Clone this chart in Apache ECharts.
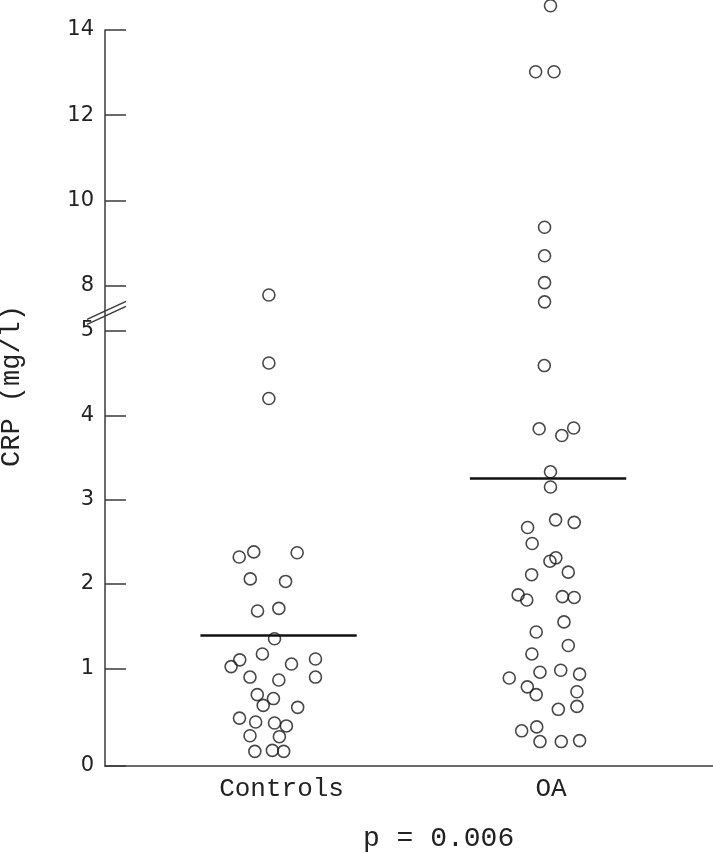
<!DOCTYPE html>
<html>
<head>
<meta charset="utf-8">
<script src="https://cdn.jsdelivr.net/npm/echarts@6/dist/echarts.min.js"></script>
<style>
  html, body { margin: 0; padding: 0; background: #fff; }
  #chart { width: 713px; height: 853px; }
</style>
</head>
<body>
<div id="chart"></div>
<script>
// CRP dot plot, controls vs OA, broken y axis (5 → 8)
const groups = ['Controls', 'OA'];
const yTicks = [0, 1, 2, 3, 4, 5, 8, 10, 12, 14];
const groupMeans = [1.39, 3.25];
const pValueText = 'p = 0.006';

const controlsCRP = [7.78, 4.62, 4.20, 2.32, 2.38, 2.37, 2.06, 2.03, 1.68, 1.71, 1.35, 1.17, 1.10, 1.02, 1.05, 1.11,
  0.91, 0.91, 0.88, 0.73, 0.69, 0.62, 0.60, 0.49, 0.45, 0.44, 0.41, 0.31, 0.30, 0.15, 0.16, 0.15];
const controlsJitter = [-0.036, -0.036, -0.036, -0.146, -0.092, 0.069, -0.105, 0.026, -0.078, 0.001, -0.015, -0.060, -0.144, -0.176, 0.048, 0.137,
  0.137, -0.106, 0.001, -0.079, -0.019, -0.057, 0.071, -0.145, -0.085, -0.015, 0.029, -0.106, 0.003, -0.088, -0.023, 0.019];

const oaCRP = [14.57, 13.02, 13.02, 9.37, 8.70, 8.07, 7.62, 4.59, 3.84, 3.76, 3.85, 3.33, 3.15, 2.76, 2.73, 2.67, 2.48,
  2.31, 2.27, 2.11, 2.14, 1.87, 1.81, 1.85, 1.84, 1.55, 1.43, 1.27, 1.17, 0.96, 0.98, 0.94, 0.90, 0.81, 0.73, 0.76,
  0.61, 0.58, 0.36, 0.40, 0.25, 0.25, 0.26];
const oaJitter = [0.009, -0.046, 0.022, -0.013, -0.013, -0.013, -0.013, -0.014, -0.033, 0.051, 0.095, 0.009, 0.009, 0.028, 0.097, -0.076, -0.059,
  0.029, 0.007, -0.061, 0.075, -0.111, -0.079, 0.053, 0.097, 0.059, -0.044, 0.075, -0.060, -0.030, 0.047, 0.117, -0.144, -0.077, -0.044, 0.107,
  0.107, 0.038, -0.098, -0.042, -0.030, 0.049, 0.117];

// piecewise scale of the broken axis: segment 0-1 is a bit taller in the original,
// 1-5 linear, then the break, 8-14 at half the scale
function toDisplay(v) {
  if (v <= 1) return v * 1.159;
  if (v <= 6.5) return 1.159 + (v - 1);
  return 5.697 + (v - 8) * 0.5053;
}

const meanHalfWidth = 0.29;
const xMin = -0.644, xMax = 1.612;

const chart = echarts.init(document.getElementById('chart'), null, { renderer: 'canvas' });

const textColor = '#222';
const axisColor = '#3a3a3a';
const monoFont = "'Liberation Mono', 'Courier New', Courier, monospace";

function dots(vals, jit, g) {
  return vals.map((v, i) => [g + jit[i], toDisplay(v)]);
}

const tickDisplay = yTicks.map(toDisplay);
const dotStyle = { color: 'rgba(0,0,0,0)', borderColor: '#1a1a1a', borderWidth: 1.6 };

chart.setOption({
  backgroundColor: '#fff',
  animation: false,
  grid: { left: 105, right: 0, top: 30, bottom: 87 },
  title: {
    text: pValueText,
    left: 358,
    top: 820,
    textStyle: { fontFamily: monoFont, fontSize: 28, fontWeight: 'normal', color: textColor }
  },
  xAxis: {
    type: 'value',
    min: xMin,
    max: xMax,
    splitLine: { show: false },
    axisTick: { show: false },
    axisLine: { onZero: false, lineStyle: { color: axisColor, width: 1.5 } },
    axisLabel: {
      customValues: [0, 1],
      formatter: v => groups[Math.round(v)],
      fontFamily: monoFont,
      fontSize: 26,
      color: textColor,
      margin: 10,
      padding: [0, 0, 0, 6]
    }
  },
  yAxis: {
    type: 'value',
    min: 0,
    max: toDisplay(14),
    splitLine: { show: false },
    axisLine: { show: true, onZero: false, lineStyle: { color: axisColor, width: 1.5 } },
    axisTick: {
      show: true,
      inside: true,
      length: 21,
      customValues: tickDisplay,
      lineStyle: { color: axisColor, width: 1.5 }
    },
    axisLabel: {
      customValues: tickDisplay,
      formatter: v => {
        let best = 0;
        tickDisplay.forEach((d, i) => { if (Math.abs(d - v) < Math.abs(tickDisplay[best] - v)) best = i; });
        return String(yTicks[best]);
      },
      fontFamily: "'DejaVu Sans', sans-serif",
      fontSize: 21,
      color: textColor,
      margin: 11
    }
  },
  series: [
    {
      name: groups[0], type: 'scatter', clip: false,
      symbol: 'circle', symbolSize: 12,
      itemStyle: dotStyle,
      data: dots(controlsCRP, controlsJitter, 0)
    },
    {
      name: groups[1], type: 'scatter', clip: false,
      symbol: 'circle', symbolSize: 12,
      itemStyle: dotStyle,
      data: dots(oaCRP, oaJitter, 1)
    },
    ...groupMeans.map((m, g) => ({
      type: 'line', symbol: 'none',
      lineStyle: { color: '#111', width: 2.5 },
      data: [[g - meanHalfWidth, toDisplay(m)], [g + meanHalfWidth, toDisplay(m)]]
    }))
  ]
});

// break marks "//" on the y axis
const brk = chart.convertToPixel({ gridIndex: 0 }, [xMin, (toDisplay(5) + toDisplay(8)) / 2]);
const bx = brk[0], by = brk[1] + 6;
chart.setOption({
  graphic: [
    { type: 'line', shape: { x1: bx - 18, y1: by + 5, x2: bx + 21, y2: by - 13 }, style: { stroke: axisColor, lineWidth: 1.5 } },
    { type: 'line', shape: { x1: bx - 18, y1: by + 10, x2: bx + 21, y2: by - 8 }, style: { stroke: axisColor, lineWidth: 1.5 } },
    {
      type: 'text', x: 12, y: 386, rotation: Math.PI / 2,
      style: {
        text: 'CRP (mg/l)', fill: textColor, font: "27px " + monoFont,
        textAlign: 'center', textVerticalAlign: 'middle'
      }
    }
  ]
});
</script>
</body>
</html>
